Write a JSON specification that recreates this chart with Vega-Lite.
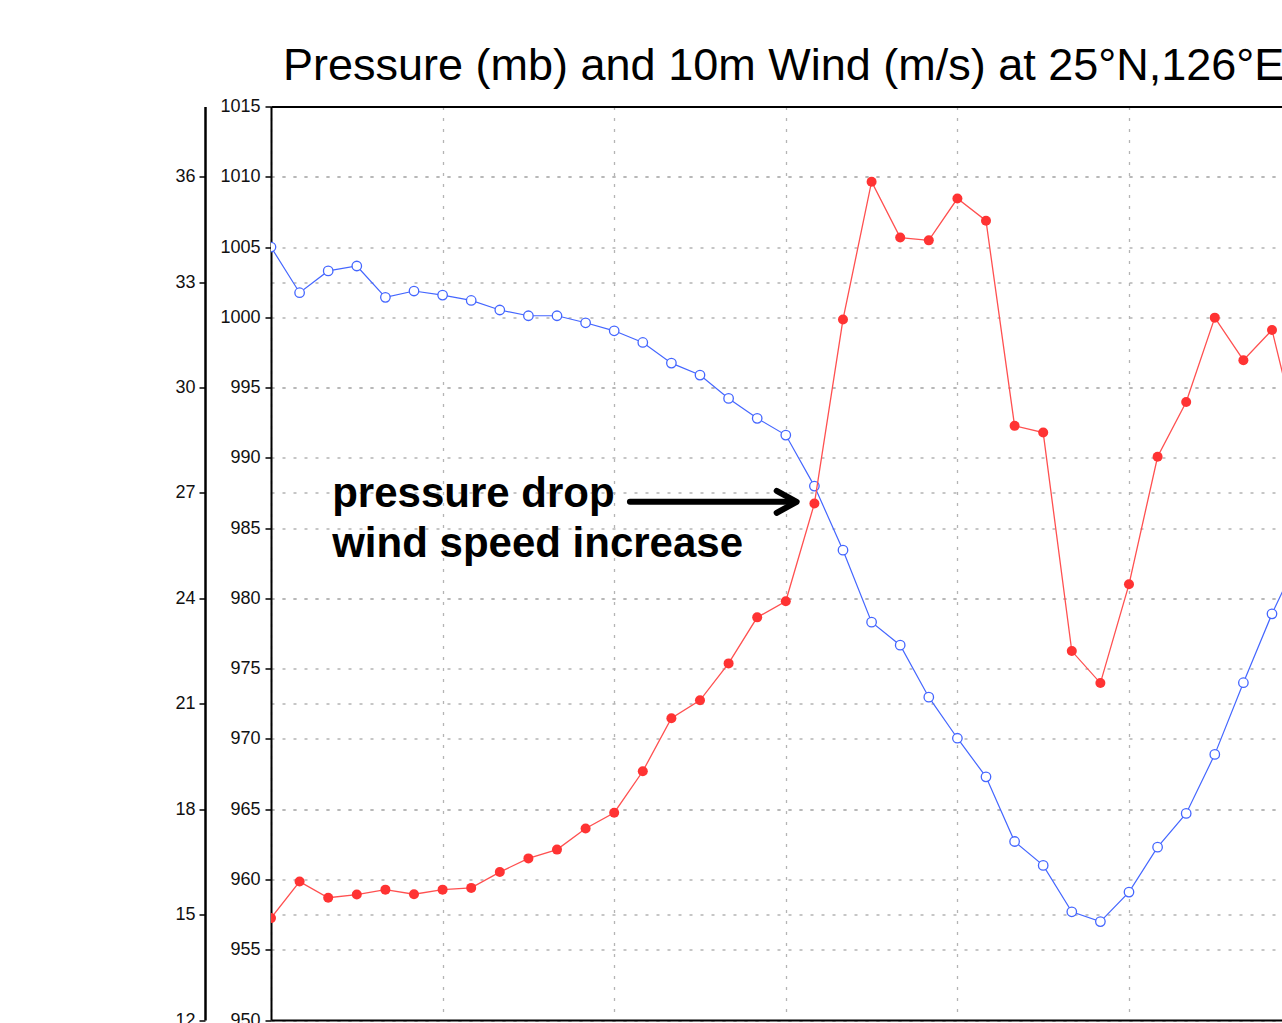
{
  "$schema": "https://vega.github.io/schema/vega-lite/v6.json",
  "autosize": {"type": "none"},
  "padding": {"left": 271, "top": 106.5, "right": 0, "bottom": 3},
  "width": 1011,
  "height": 913.5,
  "title": {
    "text": "Pressure (mb) and 10m Wind (m/s) at 25°N,126°E",
    "anchor": "start",
    "frame": "group",
    "dx": 12,
    "font": "Liberation Sans",
    "fontSize": 45,
    "fontWeight": "normal",
    "color": "#000",
    "baseline": "alphabetic",
    "offset": -27
  },
  "datasets": {
    "series": [
      {"t": 0, "p": 1005.0, "w": 14.90},
      {"t": 1, "p": 1001.75, "w": 15.94},
      {"t": 2, "p": 1003.3, "w": 15.48},
      {"t": 3, "p": 1003.65, "w": 15.57},
      {"t": 4, "p": 1001.42, "w": 15.71},
      {"t": 5, "p": 1001.87, "w": 15.58},
      {"t": 6, "p": 1001.58, "w": 15.71},
      {"t": 7, "p": 1001.2, "w": 15.76},
      {"t": 8, "p": 1000.52, "w": 16.21},
      {"t": 9, "p": 1000.11, "w": 16.60},
      {"t": 10, "p": 1000.11, "w": 16.85},
      {"t": 11, "p": 999.61, "w": 17.45},
      {"t": 12, "p": 999.04, "w": 17.90},
      {"t": 13, "p": 998.21, "w": 19.08},
      {"t": 14, "p": 996.74, "w": 20.59},
      {"t": 15, "p": 995.89, "w": 21.10},
      {"t": 16, "p": 994.23, "w": 22.15},
      {"t": 17, "p": 992.81, "w": 23.46},
      {"t": 18, "p": 991.62, "w": 23.92},
      {"t": 19, "p": 987.99, "w": 26.70},
      {"t": 20, "p": 983.43, "w": 31.94},
      {"t": 21, "p": 978.31, "w": 35.86},
      {"t": 22, "p": 976.67, "w": 34.27},
      {"t": 23, "p": 972.97, "w": 34.19},
      {"t": 24, "p": 970.05, "w": 35.38},
      {"t": 25, "p": 967.3, "w": 34.75},
      {"t": 26, "p": 962.7, "w": 28.91},
      {"t": 27, "p": 961.0, "w": 28.72},
      {"t": 28, "p": 957.7, "w": 22.50},
      {"t": 29, "p": 957.0, "w": 21.59},
      {"t": 30, "p": 959.1, "w": 24.40},
      {"t": 31, "p": 962.3, "w": 28.03},
      {"t": 32, "p": 964.7, "w": 29.59},
      {"t": 33, "p": 968.9, "w": 31.99},
      {"t": 34, "p": 974.0, "w": 30.78},
      {"t": 35, "p": 978.9, "w": 31.64},
      {"t": 36, "p": 983.2, "w": 28.3}
    ],
    "notes": [
      {"t": 2.14, "p": 986.52, "label": "pressure drop"},
      {"t": 2.14, "p": 982.96, "label": "wind speed increase"}
    ],
    "arrow": [
      {"t": 12.55, "t2": 18.28, "p": 986.87, "tip": 18.38}
    ]
  },
  "config": {
    "view": {"stroke": null},
    "axis": {
      "labelFont": "Liberation Sans",
      "labelFontSize": 18,
      "labelColor": "#111",
      "tickColor": "#000",
      "tickWidth": 1.5,
      "domainColor": "#000",
      "gridColor": "#b4b4b4",
      "gridDash": [3, 8],
      "gridWidth": 1.3
    }
  },
  "layer": [
    {
      "encoding": {
        "x": {
          "field": "t",
          "type": "quantitative",
          "scale": {"domain": [0, 35.35], "nice": false, "zero": false},
          "axis": {"orient": "bottom", "values": [0, 6, 12, 18, 24, 30], "labels": false, "ticks": false, "domainWidth": 2, "grid": true, "title": null}
        },
        "y": {
          "field": "p",
          "type": "quantitative",
          "scale": {"domain": [950, 1015], "nice": false, "zero": false},
          "axis": {"orient": "left", "format": "d", "values": [950, 955, 960, 965, 970, 975, 980, 985, 990, 995, 1000, 1005, 1010, 1015], "title": null, "tickSize": 6, "labelPadding": 5, "domainWidth": 2, "grid": true}
        }
      },
      "layer": [
        {"data": {"name": "series"}, "mark": {"type": "line", "color": "#4466ff", "strokeWidth": 1.2, "clip": true}},
        {"data": {"name": "series"}, "mark": {"type": "point", "shape": "circle", "filled": true, "fill": "white", "stroke": "#4466ff", "strokeWidth": 1.3, "size": 90, "opacity": 1, "clip": true}},
        {"data": {"name": "notes"}, "mark": {"type": "text", "font": "Liberation Sans", "fontWeight": "bold", "fontSize": 42, "align": "left", "baseline": "alphabetic", "color": "#000"}, "encoding": {"text": {"field": "label"}}},
        {"data": {"name": "arrow"}, "mark": {"type": "rule", "color": "#000", "strokeWidth": 6, "strokeCap": "round"}, "encoding": {"x2": {"field": "t2"}}},
        {"data": {"name": "arrow"}, "mark": {"type": "point", "shape": "M-2,-1.1L0,0L-2,1.1", "filled": false, "stroke": "#000", "strokeWidth": 6, "strokeCap": "round", "strokeJoin": "round", "size": 400, "opacity": 1}, "encoding": {"x": {"field": "tip", "type": "quantitative"}}}
      ]
    },
    {
      "data": {"name": "series"},
      "encoding": {
        "x": {
          "field": "t",
          "type": "quantitative",
          "scale": {"domain": [0, 35.35], "nice": false, "zero": false},
          "axis": {"orient": "top", "labels": false, "ticks": false, "grid": false, "domainWidth": 2, "title": null}
        },
        "y": {
          "field": "w",
          "type": "quantitative",
          "scale": {"domain": [12, 38], "nice": false, "zero": false},
          "axis": {"orient": "left", "offset": 66, "values": [12, 15, 18, 21, 24, 27, 30, 33, 36], "title": null, "tickSize": 6, "labelPadding": 4, "domainWidth": 2.5, "grid": true}
        }
      },
      "layer": [
        {"mark": {"type": "line", "color": "#ff5050", "strokeWidth": 1.3, "clip": true}},
        {"mark": {"type": "point", "shape": "circle", "filled": true, "color": "#ff3333", "size": 100, "opacity": 1, "clip": true}}
      ]
    }
  ],
  "resolve": {"scale": {"y": "independent"}, "axis": {"x": "independent", "y": "independent"}}
}
